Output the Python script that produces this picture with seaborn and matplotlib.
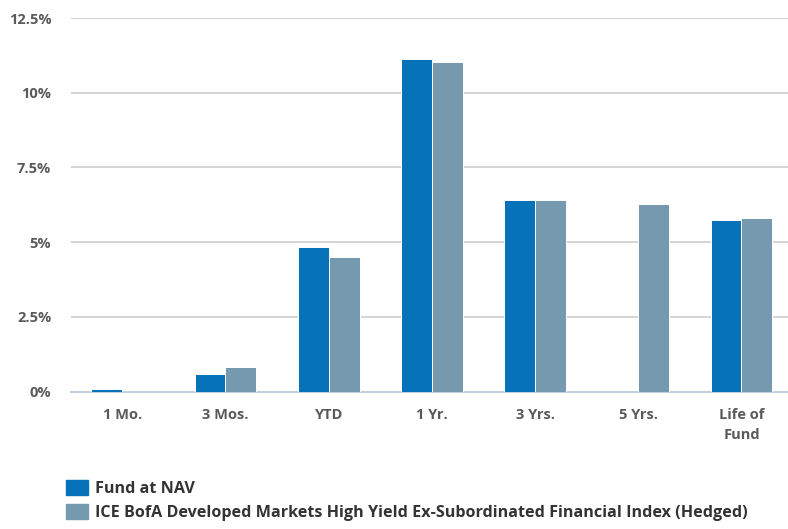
import numpy as np
import pandas as pd
import matplotlib
matplotlib.use("Agg")
import matplotlib.pyplot as plt
import seaborn as sns

categories = ["1 Mo.", "3 Mos.", "YTD", "1 Yr.", "3 Yrs.", "5 Yrs.", "Life of\nFund"]
series_names = [
    "Fund at NAV",
    "ICE BofA Developed Markets High Yield Ex-Subordinated Financial Index (Hedged)",
]
fund_values = [0.07, 0.59, 4.84, 11.13, 6.42, np.nan, 5.74]
index_values = [0.0, 0.81, 4.51, 11.04, 6.42, 6.29, 5.79]
y_ticks = [0, 2.5, 5, 7.5, 10, 12.5]
y_tick_labels = ["0%", "2.5%", "5%", "7.5%", "10%", "12.5%"]
colors = ["#0672b9", "#759aaf"]

df = pd.DataFrame({
    "period": categories * 2,
    "series": [series_names[0]] * len(categories) + [series_names[1]] * len(categories),
    "value": fund_values + index_values,
})

sns.set_style("white")
plt.rcParams["font.family"] = ["Open Sans", "DejaVu Sans"]

fig = plt.figure(figsize=(7.88, 5.29), dpi=100)
ax = fig.add_axes([70.7 / 788, 1 - 391.5 / 529, 722.4 / 788, (391.5 - 18) / 529])

sns.barplot(
    data=df, x="period", y="value", hue="series",
    order=categories, hue_order=series_names,
    palette=colors, saturation=1, width=0.6, dodge=True,
    edgecolor="white", linewidth=0.7,
    legend=False, ax=ax, zorder=3,
)

ax.set_ylim(0, 12.5)
ax.set_xlim(-0.5, len(categories) - 0.5)
ax.set_yticks(y_ticks)
ax.set_yticklabels(y_tick_labels)
for y in y_ticks[1:]:
    ax.axhline(y, color="#d2d2d2", lw=1.3, zorder=1)

for side in ["top", "right", "left"]:
    ax.spines[side].set_visible(False)
ax.spines["bottom"].set_color("#c3d1df")
ax.spines["bottom"].set_linewidth(1.5)
ax.spines["bottom"].set_zorder(2)

ax.set_xticks(np.arange(-0.5, len(categories)), minor=True)
ax.tick_params(axis="x", which="minor", length=9, width=1.2, color="#c3d1df")
ax.tick_params(axis="x", which="major", length=0, pad=12)
ax.tick_params(axis="y", length=0, pad=14)
for lab in ax.get_xticklabels() + ax.get_yticklabels():
    lab.set_fontsize(10.5)
    lab.set_fontweight("bold")
    lab.set_color("#5a5a5a")
for lab in ax.get_xticklabels():
    lab.set_linespacing(1.5)
    lab.set_verticalalignment("top")
ax.set_xlabel("")
ax.set_ylabel("")

handles = [plt.Rectangle((0, 0), 1, 1, color=c) for c in colors]
leg = fig.legend(
    handles, series_names, loc="upper left",
    bbox_to_anchor=(66 / 788, 1 - 480 / 529),
    frameon=False, fontsize=11.6, handlelength=1.38, handleheight=1.05,
    handletextpad=0.45, labelspacing=0.45, borderpad=0, borderaxespad=0,
)
for t in leg.get_texts():
    t.set_color("#333333")
    t.set_fontweight("bold")

fig.savefig("out.png", dpi=100)
